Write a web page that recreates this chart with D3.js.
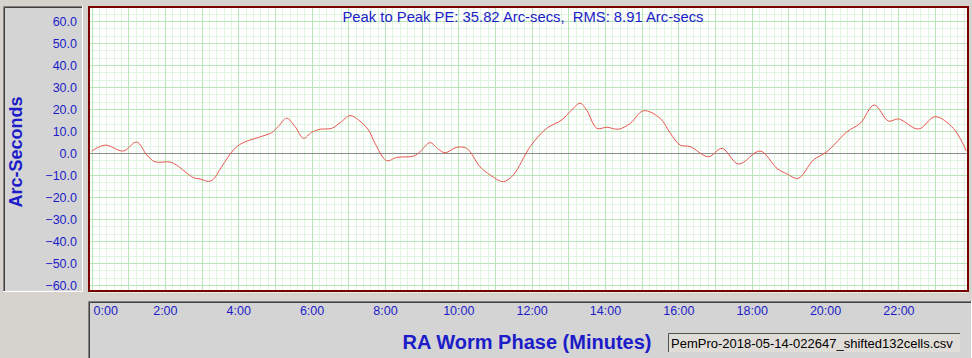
<!DOCTYPE html>
<html>
<head>
<meta charset="utf-8">
<script src="https://cdn.jsdelivr.net/npm/d3@7"></script>
<style>
  body { margin: 0; background: #d6d3ce; }
  svg { display: block; font-family: "Liberation Sans", Arial, sans-serif; }
</style>
</head>
<body>
<svg id="chart" width="972" height="358"></svg>
<script>
// worm phase in minutes and periodic error in arc-seconds
const minutes = [0.0, 0.37, 0.87, 1.23, 1.51, 1.73, 2.14, 2.32, 2.55, 2.78, 2.96, 3.19, 3.32, 3.55, 3.87,
  4.10, 4.55, 4.91, 5.09, 5.32, 5.55, 5.78, 6.00, 6.23, 6.55, 6.78, 7.05, 7.28, 7.55, 7.73,
  8.05, 8.32, 8.78, 8.96, 9.23, 9.46, 9.64, 9.96, 10.23, 10.59, 10.87, 11.23, 11.50, 11.96,
  12.41, 12.82, 13.05, 13.32, 13.50, 13.78, 14.05, 14.37, 14.69, 15.05, 15.50, 15.78, 16.05,
  16.32, 16.82, 17.19, 17.64, 18.23, 18.69, 18.96, 19.27, 19.68, 20.05, 20.60, 20.96, 21.34,
  21.73, 22.00, 22.55, 23.00, 23.50, 23.85]
const arcsecs = [0.8, 3.6, 0.9, 5.0, -0.9, -4.0, -4.1, -5.5, -8.5, -11.2, -11.8, -12.9, -12.0, -6.2, 1.4,
  4.4, 7.1, 9.2, 12.0, 15.8, 12.0, 6.7, 9.4, 10.8, 11.2, 13.8, 17.0, 15.0, 10.5, 4.4,
  -3.5, -2.0, -1.4, 0.6, 4.7, 1.7, 0.1, 2.6, 2.1, -6.2, -10.0, -13.0, -10.0, 2.9,
  11.2, 15.0, 18.8, 22.6, 19.5, 11.2, 11.7, 10.8, 13.5, 19.2, 15.8, 9.0, 3.6,
  2.9, -1.7, 2.1, -5.0, 0.9, -7.0, -9.5, -11.5, -3.2, 0.6, 9.7, 13.5, 21.8,
  14.5, 15.5, 10.9, 16.5, 11.2, 1.0]
const xTicks = [0, 2, 4, 6, 8, 10, 12, 14, 16, 18, 20, 22]
const yTicks = [60, 50, 40, 30, 20, 10, 0, -10, -20, -30, -40, -50, -60]
const headline = 'Peak to Peak PE: 35.82 Arc-secs,  RMS: 8.91 Arc-secs'
const fileName = 'PemPro-2018-05-14-022647_shifted132cells.csv'

const blue = '#1c1cc8'
const svg = d3.select('#chart')

const plot = { left: 89, top: 7, right: 968, bottom: 291 }
const x = d3.scaleLinear().domain([0, 23.87]).range([91.5, 967])
const y = d3.scaleLinear().domain([60, -60]).range([21, 285])

// sunken panel helper
function panel(x0, y0, x1, y1, fill) {
  svg.append('rect').attr('x', x0).attr('y', y0).attr('width', x1 - x0).attr('height', y1 - y0).attr('fill', fill)
  svg.append('path').attr('d', `M${x0 + 0.5},${y1}V${y0 + 0.5}H${x1}`).attr('fill', 'none').attr('stroke', '#808080')
  svg.append('path').attr('d', `M${x0 + 1.5},${y1 - 1}V${y0 + 1.5}H${x1 - 1}`).attr('fill', 'none').attr('stroke', '#404040')
  svg.append('path').attr('d', `M${x0},${y1 - 0.5}H${x1 - 0.5}V${y0}`).attr('fill', 'none').attr('stroke', '#ffffff')
}

// y axis panel
panel(3, 6, 83, 292, '#d4d4d4')
// x axis panel
panel(88, 301, 972, 362, '#d4d4d4')

// plot background
svg.append('rect')
  .attr('x', plot.left).attr('y', plot.top)
  .attr('width', plot.right - plot.left).attr('height', plot.bottom - plot.top)
  .attr('fill', '#ffffff')

const grid = svg.append('g')
const xMinor = d3.range(0, 24, 0.2)
const yMinor = d3.range(-63.33, 66.7, 10 / 3)

grid.selectAll('.vminor').data(xMinor).join('line')
  .attr('x1', d => Math.round(x(d)) + 0.5).attr('x2', d => Math.round(x(d)) + 0.5)
  .attr('y1', plot.top).attr('y2', plot.bottom)
  .attr('stroke', '#e0f5e0')
grid.selectAll('.hminor').data(yMinor).join('line')
  .attr('x1', plot.left).attr('x2', plot.right)
  .attr('y1', d => Math.round(y(d)) + 0.5).attr('y2', d => Math.round(y(d)) + 0.5)
  .attr('stroke', '#e0f5e0')
grid.selectAll('.vmajor').data(d3.range(0, 24, 1)).join('line')
  .attr('x1', d => Math.round(x(d)) + 0.5).attr('x2', d => Math.round(x(d)) + 0.5)
  .attr('y1', plot.top).attr('y2', plot.bottom)
  .attr('stroke', '#b8e6b8')
grid.selectAll('.hmajor').data(yTicks).join('line')
  .attr('x1', plot.left).attr('x2', plot.right)
  .attr('y1', d => Math.round(y(d)) + 0.5).attr('y2', d => Math.round(y(d)) + 0.5)
  .attr('stroke', '#b8e6b8')

// zero line
svg.append('line')
  .attr('x1', plot.left).attr('x2', plot.right)
  .attr('y1', Math.round(y(0)) + 0.5).attr('y2', Math.round(y(0)) + 0.5)
  .attr('stroke', '#8c8c8c')

// the PE curve
const pts = minutes.map((m, i) => [m, arcsecs[i]])
svg.append('path')
  .datum(pts)
  .attr('fill', 'none')
  .attr('stroke', '#e8554e')
  .attr('stroke-width', 1)
  .attr('d', d3.line().x(d => x(d[0])).y(d => y(d[1])).curve(d3.curveCatmullRom))

// plot frame
svg.append('rect')
  .attr('x', plot.left).attr('y', plot.top)
  .attr('width', plot.right - plot.left).attr('height', plot.bottom - plot.top)
  .attr('fill', 'none').attr('stroke', '#7a0000').attr('stroke-width', 2)

svg.append('text')
  .attr('x', 523).attr('y', 22)
  .attr('text-anchor', 'middle')
  .attr('font-size', 14.8)
  .attr('fill', blue)
  .style('white-space', 'pre')
  .text(headline)

// y axis labels
const yAxis = svg.append('g')
  .attr('transform', 'translate(77,0)')
  .call(d3.axisLeft(y).tickValues(yTicks).tickFormat(d3.format('.1f')).tickSize(0).tickPadding(0))
yAxis.select('.domain').remove()
yAxis.selectAll('text')
  .attr('font-family', '"Liberation Sans", Arial, sans-serif')
  .attr('font-size', 12.5).attr('fill', blue)

svg.append('text')
  .attr('transform', 'translate(22,152) rotate(-90)')
  .attr('text-anchor', 'middle')
  .attr('font-size', 18).attr('font-weight', 'bold')
  .attr('fill', blue)
  .text('Arc-Seconds')

// x axis labels
const xAxis = svg.append('g')
  .attr('transform', 'translate(0,306)')
  .call(d3.axisBottom(x).tickValues(xTicks).tickFormat(d => d + ':00').tickSize(0).tickPadding(0))
xAxis.select('.domain').remove()
xAxis.selectAll('text')
  .attr('font-family', '"Liberation Sans", Arial, sans-serif')
  .attr('font-size', 12.5).attr('fill', blue)
xAxis.selectAll('text').filter(d => d === 0)
  .attr('text-anchor', 'start').attr('x', 1.5)

svg.append('text')
  .attr('x', 527).attr('y', 349)
  .attr('text-anchor', 'middle')
  .attr('font-size', 20).attr('font-weight', 'bold')
  .attr('fill', blue)
  .text('RA Worm Phase (Minutes)')

// file name box
svg.append('rect').attr('x', 668).attr('y', 333).attr('width', 292).attr('height', 19).attr('fill', '#e0ddd8')
svg.append('path').attr('d', 'M668.5,352V333.5H960').attr('fill', 'none').attr('stroke', '#505050')
svg.append('text')
  .attr('x', 671).attr('y', 347.5)
  .attr('font-size', 13).attr('fill', '#000')
  .text(fileName)
</script>
</body>
</html>
